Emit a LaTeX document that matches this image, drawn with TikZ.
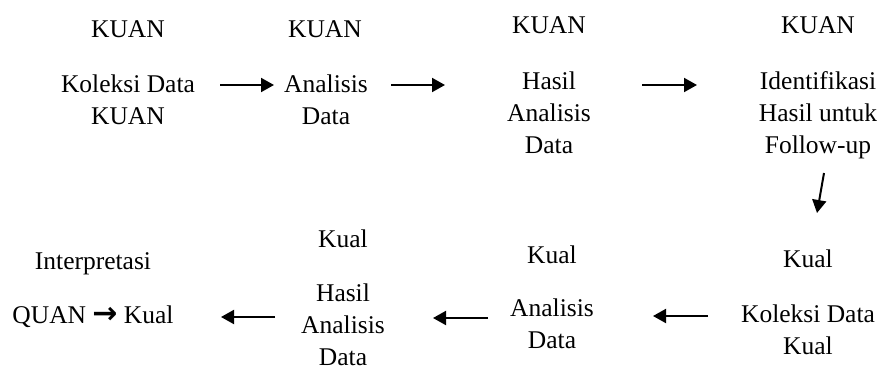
\documentclass[tikz,border=0pt]{standalone}
\usepackage{fontspec}
\setmainfont{Liberation Serif}
\newfontfamily\symfont{DejaVu Sans}
\usetikzlibrary{arrows.meta}
\begin{document}
\begin{tikzpicture}[x=1pt,y=-1pt,
  lbl/.style={inner sep=0pt, anchor=base, align=center,
    font=\fontsize{25.5}{32}\selectfont},
  arr/.style={line width=2pt, -{Triangle[length=13pt,width=14pt]}}]
\useasboundingbox (0,0) rectangle (883,372);
% labels are anchored at the baseline of their last line
% top row: quantitative strand
\node[lbl] (t1) at (128,37) {KUAN};
\node[lbl] (b1) at (128,124) {Koleksi Data\\KUAN};
\node[lbl] (t2) at (325,37) {KUAN};
\node[lbl] (b2) at (326,124) {Analisis\\Data};
\node[lbl] (t3) at (549,33) {KUAN};
\node[lbl] (b3) at (549,153) {Hasil\\Analisis\\Data};
\node[lbl] (t4) at (818,33) {KUAN};
\node[lbl] (b4) at (818,153) {Identifikasi\\Hasil untuk\\Follow-up};
% bottom row: qualitative strand
\node[lbl] (t5) at (808,267) {Kual};
\node[lbl] (b5) at (808,354) {Koleksi Data\\Kual};
\node[lbl] (t6) at (552,263) {Kual};
\node[lbl] (b6) at (552,348) {Analisis\\Data};
\node[lbl] (t7) at (343,247) {Kual};
\node[lbl] (b7) at (343,365) {Hasil\\Analisis\\Data};
\node[lbl] (t8) at (93,269) {Interpretasi};
\node[lbl] (b8) at (93,323) {QUAN {\symfont\bfseries\fontsize{30}{30}\selectfont →} Kual};
% arrow end points
\coordinate (a1s) at (220,85); \coordinate (a1e) at (274,85);
\coordinate (a2s) at (391,85); \coordinate (a2e) at (445,85);
\coordinate (a3s) at (642,85); \coordinate (a3e) at (697,85);
\coordinate (a4s) at (824,173); \coordinate (a4e) at (817,213);
\coordinate (a5s) at (708,316); \coordinate (a5e) at (653,316);
\coordinate (a6s) at (488,318); \coordinate (a6e) at (433,318);
\coordinate (a7s) at (275,317); \coordinate (a7e) at (221,317);
\foreach \i in {1,...,7} \draw[arr] (a\i s) -- (a\i e);
\end{tikzpicture}
\end{document}
